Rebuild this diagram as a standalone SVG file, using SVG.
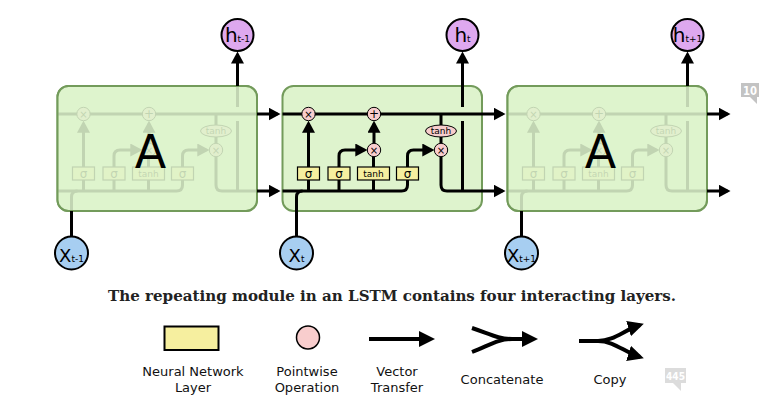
<svg xmlns="http://www.w3.org/2000/svg" width="779" height="411" viewBox="0 0 779 411">
<style>
.ln{fill:none;stroke:#000;stroke-width:3}
.box{fill:#def3cd;stroke:#739b5b;stroke-width:2}
.fade{fill:#def3cd;fill-opacity:0.87;stroke:#739b5b;stroke-width:2}
.op{fill:#f8cdcd;stroke:#000;stroke-width:1}
.nn{fill:#f6ef9f;stroke:#000;stroke-width:1.2}
.t{font-family:"DejaVu Sans",Verdana,sans-serif;fill:#000}
.hc{fill:#dea8ef;stroke:#000;stroke-width:2}
.xc{fill:#a7cef1;stroke:#000;stroke-width:2}
.big{fill:none;stroke:#000;stroke-width:4}
.lg{font-family:"DejaVu Sans",Verdana,sans-serif;font-size:13px;fill:#111;text-anchor:middle}
.badge{font-family:"DejaVu Sans",sans-serif;font-weight:bold;fill:#fff;text-anchor:middle}
</style>
<defs>
<marker id="ah" markerUnits="userSpaceOnUse" markerWidth="12" markerHeight="13" refX="9" refY="6.5" orient="auto" viewBox="0 0 12 13"><path d="M0,0 L12,6.5 L0,13 z"/></marker>
<marker id="ahb" markerUnits="userSpaceOnUse" markerWidth="16" markerHeight="16" refX="12" refY="8" orient="auto" viewBox="0 0 16 16"><path d="M0,0 L16,8 L0,16 z"/></marker>
<g id="inner">
<path class="ln" d="M0,114 H199.5"/>
<path class="ln" d="M0,191 H119 Q125,191 125,185 V180"/>
<path class="ln" d="M14,211 V197 Q14,191 20,191"/>
<path class="ln" d="M26,191 V180 M56.5,191 V180 M91,191 V180 M91,167 V156.7 M158.5,114 V125 M158.5,137 V143.3 M180,86 V107 M180,121 V191"/>
<path class="ln" d="M26,167 V123.7" marker-end="url(#ah)"/>
<path class="ln" d="M91.5,143.3 V123.7" marker-end="url(#ah)"/>
<path class="ln" d="M56.5,167 V156 Q56.5,150 62.5,150 H81.8" marker-end="url(#ah)"/>
<path class="ln" d="M125,167 V156 Q125,150 131,150 H148.8" marker-end="url(#ah)"/>
<path class="ln" d="M158.5,156.7 V185 Q158.5,191 164.5,191 H199.5"/>
<circle class="op" cx="26" cy="114" r="6.7"/>
<circle class="op" cx="91.5" cy="114" r="6.7"/>
<circle class="op" cx="91.5" cy="150" r="6.7"/>
<circle class="op" cx="158.5" cy="150" r="6.7"/>
<ellipse class="op" cx="158.5" cy="131" rx="15.5" ry="6"/>
<g class="t" text-anchor="middle">
<text x="26" y="117.5" font-size="10">×</text>
<text x="91.5" y="118" font-size="12">+</text>
<text x="91.5" y="153.5" font-size="10">×</text>
<text x="158.5" y="153.5" font-size="10">×</text>
<text x="158.5" y="134.3" font-size="9">tanh</text>
</g>
<rect class="nn" x="15" y="167" width="22" height="13"/>
<rect class="nn" x="45.5" y="167" width="22" height="13"/>
<rect class="nn" x="75" y="167" width="32" height="13"/>
<rect class="nn" x="114" y="167" width="22" height="13"/>
<g class="t" text-anchor="middle">
<text x="26" y="178" font-size="12">σ</text>
<text x="56.5" y="178" font-size="12">σ</text>
<text x="91" y="177" font-size="9">tanh</text>
<text x="125" y="178" font-size="12">σ</text>
</g>
</g>
</defs>

<g id="cell-left">
<rect class="box" x="57.5" y="86" width="199.5" height="125" rx="11"/>
<use href="#inner" transform="translate(57.5,0)"/>
<rect class="fade" x="57.5" y="86" width="199.5" height="125" rx="11"/>
<text class="t" x="150.5" y="168" font-size="46" text-anchor="middle">A</text>
</g>
<g id="cell-middle">
<rect class="box" x="282.5" y="86" width="199.5" height="125" rx="11"/>
<use href="#inner" transform="translate(282.5,0)"/>
</g>
<g id="cell-right">
<rect class="box" x="507.5" y="86" width="199.5" height="125" rx="11"/>
<use href="#inner" transform="translate(507.5,0)"/>
<rect class="fade" x="507.5" y="86" width="199.5" height="125" rx="11"/>
<text class="t" x="600.5" y="168" font-size="46" text-anchor="middle">A</text>
</g>

<g id="connectors">
<path class="ln" d="M257,114 H277.5" marker-end="url(#ah)"/>
<path class="ln" d="M257,191 H277.5" marker-end="url(#ah)"/>
<path class="ln" d="M482,114 H502.5" marker-end="url(#ah)"/>
<path class="ln" d="M482,191 H502.5" marker-end="url(#ah)"/>
<path class="ln" d="M707,114 H727.5" marker-end="url(#ah)"/>
<path class="ln" d="M707,191 H727.5" marker-end="url(#ah)"/>
<path class="ln" d="M237.5,86 V54.5" marker-end="url(#ah)"/>
<path class="ln" d="M462.5,86 V54.5" marker-end="url(#ah)"/>
<path class="ln" d="M687.5,86 V54.5" marker-end="url(#ah)"/>
<path class="ln" d="M71.5,236.5 V211 M296.5,236.5 V211 M521.5,236.5 V211"/>
</g>

<g id="h-prev"><circle class="hc" cx="237.5" cy="35" r="16"/><text class="t" x="237.5" y="42" text-anchor="middle"><tspan font-size="20">h</tspan><tspan font-size="9">t-1</tspan></text></g>
<g id="h-t"><circle class="hc" cx="462.5" cy="35" r="16"/><text class="t" x="462.5" y="42" text-anchor="middle"><tspan font-size="20">h</tspan><tspan font-size="9">t</tspan></text></g>
<g id="h-next"><circle class="hc" cx="687.5" cy="35" r="16"/><text class="t" x="687.5" y="42" text-anchor="middle"><tspan font-size="20">h</tspan><tspan font-size="9">t+1</tspan></text></g>
<g id="x-prev"><circle class="xc" cx="71.5" cy="253" r="16.5"/><text class="t" x="71.5" y="261.5" text-anchor="middle"><tspan font-size="18">X</tspan><tspan font-size="9">t-1</tspan></text></g>
<g id="x-t"><circle class="xc" cx="296.5" cy="253" r="16.5"/><text class="t" x="296.5" y="261.5" text-anchor="middle"><tspan font-size="18">X</tspan><tspan font-size="9">t</tspan></text></g>
<g id="x-next"><circle class="xc" cx="521.5" cy="253" r="16.5"/><text class="t" x="521.5" y="261.5" text-anchor="middle"><tspan font-size="18">X</tspan><tspan font-size="9">t+1</tspan></text></g>

<text id="caption" x="108" y="301" font-family="'DejaVu Serif',serif" font-weight="bold" font-size="14.5" fill="#222" textLength="568" lengthAdjust="spacingAndGlyphs">The repeating module in an LSTM contains four interacting layers.</text>

<g id="legend-nn"><rect x="164.5" y="326.5" width="54" height="23.5" fill="#f6ef9f" stroke="#000" stroke-width="2"/><text class="lg" x="193" y="376">Neural Network</text><text class="lg" x="193" y="392">Layer</text></g>
<g id="legend-op"><circle cx="308" cy="337.5" r="11.5" fill="#f8cdcd" stroke="#000" stroke-width="1.5"/><text class="lg" x="307" y="376">Pointwise</text><text class="lg" x="307" y="392">Operation</text></g>
<g id="legend-vec"><path class="big" d="M369,339 H431" marker-end="url(#ahb)"/><text class="lg" x="397" y="376">Vector</text><text class="lg" x="397" y="392">Transfer</text></g>
<g id="legend-cat"><path class="big" d="M472,328 C490,334 498,339 512,339 M472,352 C490,345 498,339 512,339"/><path class="big" d="M510,339 H534" marker-end="url(#ahb)"/><text class="lg" x="502" y="384">Concatenate</text></g>
<g id="legend-copy"><path class="big" d="M579,341 H598 C614,341 624,330 640,325" marker-end="url(#ahb)"/><path class="big" d="M598,341 C614,341 624,352 640,357" marker-end="url(#ahb)"/><text class="lg" x="610" y="384">Copy</text></g>

<g id="badge-10"><rect x="741" y="83" width="18" height="14" fill="#c3c3c3"/><polygon points="750,97 757,97 757,104" fill="#c3c3c3"/><text class="badge" x="750" y="95" font-size="12" textLength="14" lengthAdjust="spacingAndGlyphs">10</text></g>
<g id="badge-445"><rect x="665" y="368" width="21" height="15" fill="#dcdcdc"/><polygon points="673,383 681,383 681,391" fill="#dcdcdc"/><text class="badge" x="675.5" y="380" font-size="10" textLength="19" lengthAdjust="spacingAndGlyphs">445</text></g>
</svg>
